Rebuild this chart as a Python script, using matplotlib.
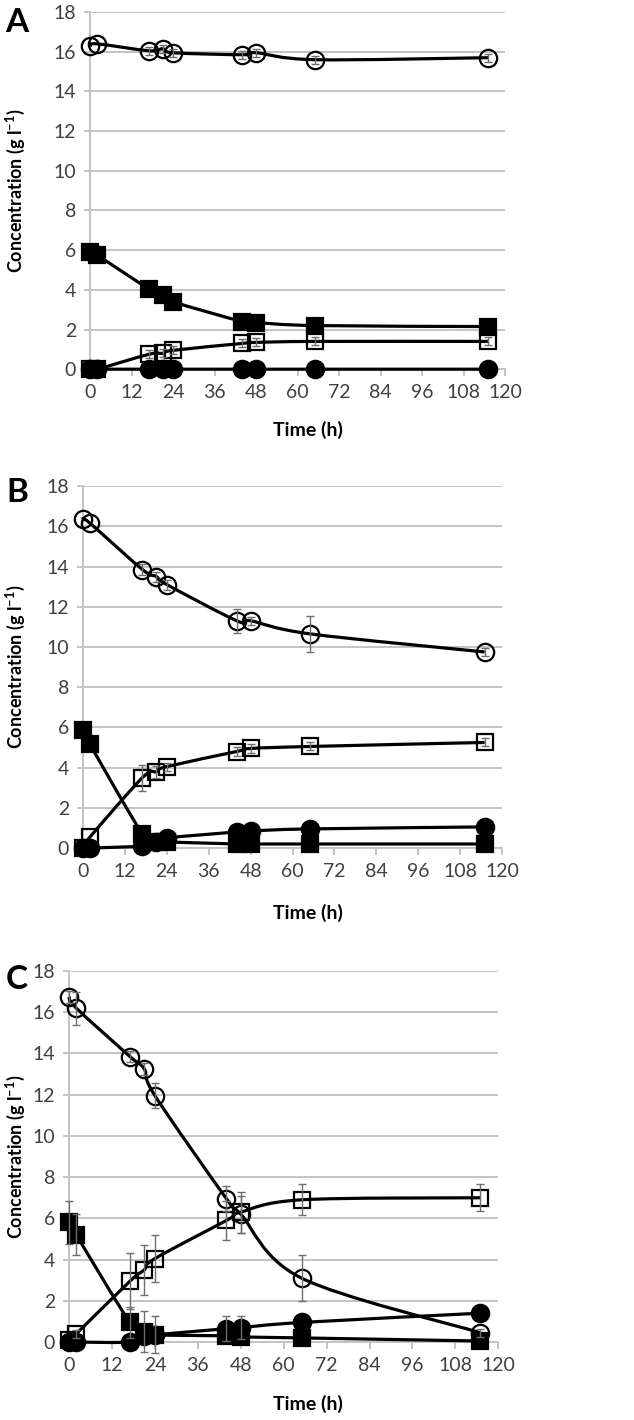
import numpy as np
import matplotlib.pyplot as plt
from matplotlib.path import Path
from matplotlib.patches import PathPatch

plt.rcParams['font.family'] = ['Lato', 'DejaVu Sans']
plt.rcParams['mathtext.fontset'] = 'custom'
plt.rcParams['mathtext.rm'] = 'Lato:bold'
plt.rcParams['mathtext.default'] = 'rm'

# sampling times (h), same for all panels
time_h = [0, 2, 17, 21, 24, 44, 48, 65, 115]

# panel A
a_open_circle = [16.3, 16.4, 16.05, 16.15, 15.95, 15.85, 15.95, 15.6, 15.7]
a_open_circle_err = [0, 0, 0.2, 0.2, 0.2, 0.2, 0.2, 0.2, 0.2]
a_filled_square = [5.9, 5.75, 4.05, 3.75, 3.4, 2.4, 2.35, 2.2, 2.15]
a_filled_square_err = [0, 0, 0, 0, 0, 0, 0, 0, 0]
a_open_square = [0, 0, 0.75, 0.8, 0.95, 1.3, 1.35, 1.4, 1.4]
a_open_square_err = [0, 0, 0.2, 0.2, 0.2, 0.2, 0.2, 0.2, 0.2]
a_filled_circle = [0, 0, 0, 0, 0, 0, 0, 0, 0]
a_filled_circle_err = [0, 0, 0, 0, 0, 0, 0, 0, 0]

# panel B
b_open_circle = [16.35, 16.15, 13.85, 13.5, 13.1, 11.3, 11.3, 10.65, 9.75]
b_open_circle_err = [0, 0, 0.25, 0.25, 0.25, 0.6, 0.2, 0.9, 0.2]
b_filled_square = [5.85, 5.15, 0.7, 0.3, 0.3, 0.2, 0.2, 0.2, 0.2]
b_filled_square_err = [0, 0, 0, 0, 0, 0, 0, 0, 0]
b_open_square = [0, 0.55, 3.5, 3.8, 4.05, 4.8, 4.95, 5.05, 5.25]
b_open_square_err = [0, 0, 0.65, 0.3, 0.2, 0.2, 0.2, 0.2, 0.2]
b_filled_circle = [0, 0, 0.1, 0.3, 0.5, 0.8, 0.85, 0.95, 1.05]
b_filled_circle_err = [0, 0, 0, 0, 0, 0, 0, 0, 0]

# panel C
c_open_circle = [16.75, 16.2, 13.85, 13.25, 11.95, 6.95, 6.2, 3.1, 0.45]
c_open_circle_err = [0.3, 0.8, 0.25, 0.3, 0.6, 0.6, 0.9, 1.1, 0.2]
c_filled_square = [5.8, 5.2, 0.95, 0.5, 0.35, 0.3, 0.25, 0.2, 0.05]
c_filled_square_err = [1.05, 1.0, 0.75, 1.0, 0.9, 0, 0, 0, 0]
c_open_square = [0.1, 0.4, 2.95, 3.5, 4.05, 5.9, 6.3, 6.9, 7.0]
c_open_square_err = [0, 0.2, 1.35, 1.2, 1.15, 0.95, 1.0, 0.75, 0.65]
c_filled_circle = [0, 0, 0, 0.3, 0.35, 0.65, 0.7, 0.95, 1.4]
c_filled_circle_err = [0, 0, 0, 0, 0, 0.6, 0.55, 0, 0]

panels = [
    ('A', [0.142, 0.740, 0.655, 0.2515], 0.9845, 0.697,
     [(a_open_circle, a_open_circle_err, 'o', 'none'),
      (a_filled_square, a_filled_square_err, 's', 'black'),
      (a_open_square, a_open_square_err, 's', 'none'),
      (a_filled_circle, a_filled_circle_err, 'o', 'black')]),
    ('B', [0.131, 0.4028, 0.661, 0.2549], 0.6535, 0.357,
     [(b_open_circle, b_open_circle_err, 'o', 'none'),
      (b_filled_square, b_filled_square_err, 's', 'black'),
      (b_open_square, b_open_square_err, 's', 'none'),
      (b_filled_circle, b_filled_circle_err, 'o', 'black')]),
    ('C', [0.109, 0.0549, 0.677, 0.2613], 0.31, 0.011,
     [(c_open_circle, c_open_circle_err, 'o', 'none'),
      (c_filled_square, c_filled_square_err, 's', 'black'),
      (c_open_square, c_open_square_err, 's', 'none'),
      (c_filled_circle, c_filled_circle_err, 'o', 'black')]),
]


# Excel-like smoothed line, built as cubic bezier segments through the points
def smooth_path(x, y):
    pts = np.column_stack([x, y]).astype(float)
    ext = np.vstack([pts[0], pts, pts[-1]])
    verts = [pts[0]]
    codes = [Path.MOVETO]
    for i in range(len(pts) - 1):
        p0, p1, p2, p3 = ext[i], ext[i + 1], ext[i + 2], ext[i + 3]
        verts += [p1 + (p2 - p0) / 6, p2 - (p3 - p1) / 6, p2]
        codes += [Path.CURVE4] * 3
    return Path(verts, codes)


fig = plt.figure(figsize=(6.34, 14.2), dpi=100)
grid_col = '#c4c4c4'
tick_col = '#404040'

for letter, rect, letter_y, time_y, series in panels:
    ax = fig.add_axes(rect)
    ax.set_xlim(0, 120)
    ax.set_ylim(0, 18)
    ax.set_xticks(np.arange(0, 121, 12))
    ax.set_yticks(np.arange(0, 19, 2))
    ax.grid(axis='y', color=grid_col, lw=1.4)
    ax.set_axisbelow(True)
    for s in ['top', 'right']:
        ax.spines[s].set_visible(False)
    for s in ['left', 'bottom']:
        ax.spines[s].set_color(grid_col)
        ax.spines[s].set_linewidth(1.4)
    ax.tick_params(axis='y', direction='out', length=4, width=1.4, color=grid_col,
                   labelsize=14, labelcolor=tick_col, pad=6)
    ax.tick_params(axis='x', direction='out', length=5, width=1.4, color=grid_col,
                   labelsize=14, labelcolor=tick_col, pad=6)

    for vals, errs, mk, fc in series:
        ax.add_patch(PathPatch(smooth_path(time_h, vals), fill=False, lw=2.3,
                               ec='black', zorder=3, clip_on=False))
        ax.plot(time_h, vals, ls='none', marker=mk, ms=12.5 if mk == 'o' else 11,
                mfc=fc, mec='black', mew=1.6, zorder=4, clip_on=False)
        # error bars only where there is one
        keep = [i for i, e in enumerate(errs) if e > 0]
        if keep:
            ax.errorbar([time_h[i] for i in keep], [vals[i] for i in keep],
                        yerr=[errs[i] for i in keep], fmt='none', ecolor='#6e6e6e',
                        elinewidth=1.0, capsize=3, capthick=1.0, zorder=5,
                        clip_on=False)

    fig.text(0.027, letter_y, letter, fontsize=24, fontweight='bold',
             ha='center', va='center')
    fig.text(0.024, rect[1] + rect[3] / 2, 'Concentration (g l$^{-1}$)',
             rotation=90, fontsize=13, fontweight='bold', ha='center', va='center')
    fig.text(0.485, time_y, 'Time (h)', fontsize=14, fontweight='bold',
             ha='center', va='center')

fig.savefig('out.png', dpi=100)
